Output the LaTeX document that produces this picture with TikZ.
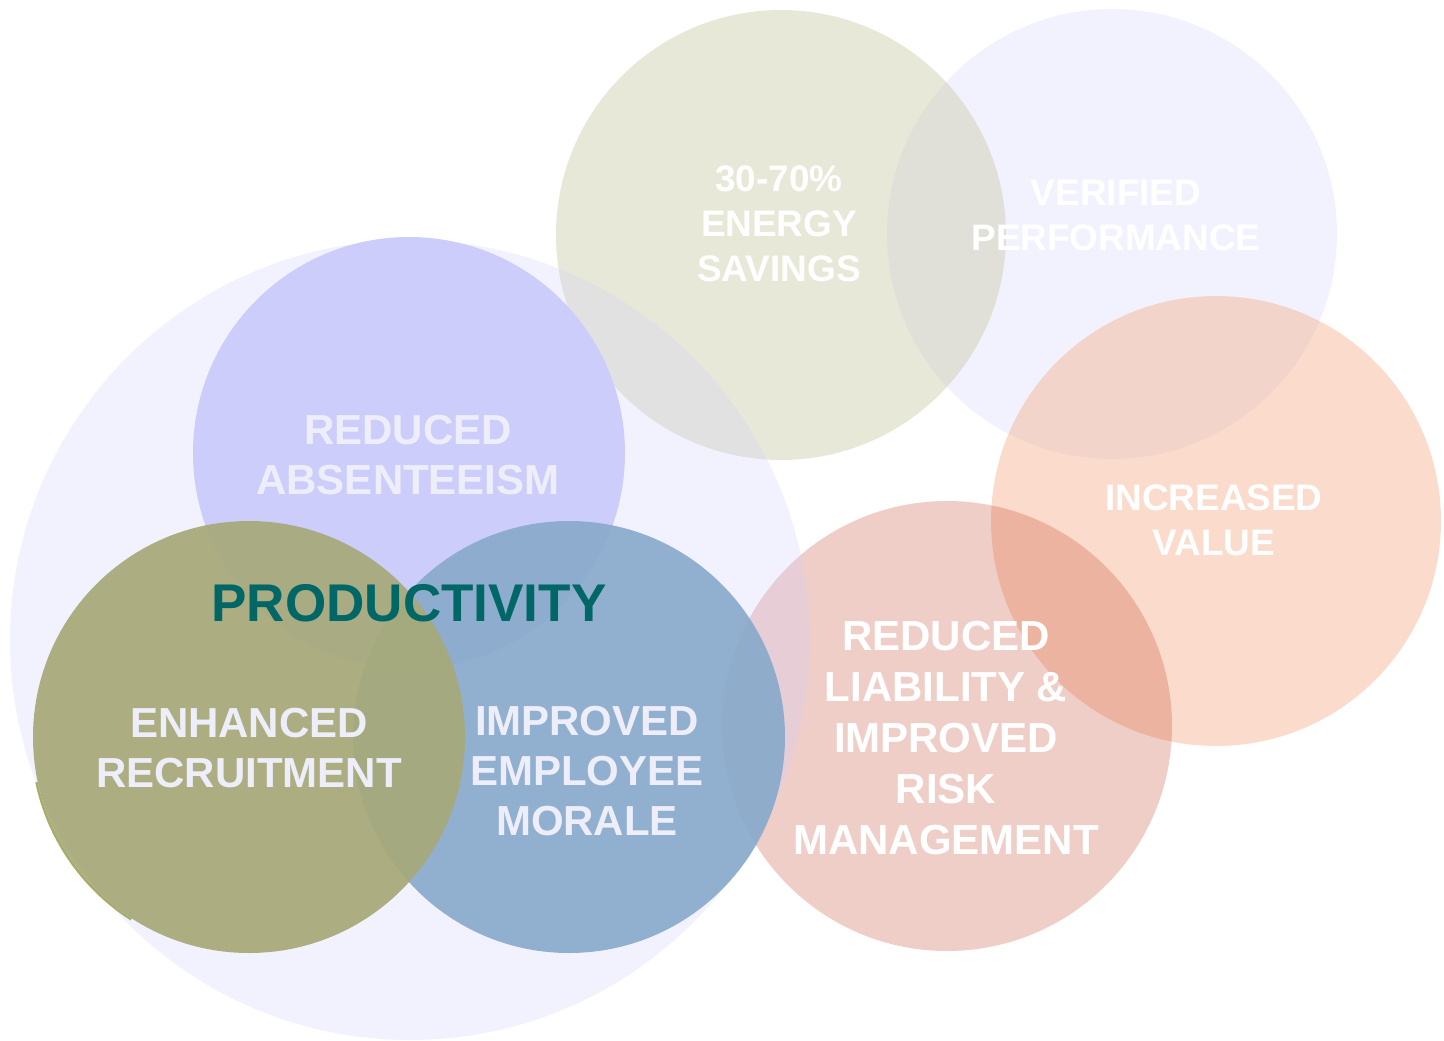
\documentclass[tikz,border=0pt]{standalone}
\usepackage{fontspec}
\setmainfont{Liberation Sans}
\definecolor{lavender}{RGB}{204,204,255}
\definecolor{absentblue}{RGB}{205,205,252}
\definecolor{olivegreen}{RGB}{167,169,120}
\definecolor{oliveedge}{RGB}{168,172,106}
\definecolor{moraleblue}{RGB}{135,169,202}
\definecolor{energyolive}{RGB}{191,191,147}
\definecolor{valueorange}{RGB}{244,167,127}
\definecolor{riskred}{RGB}{193,51,26}
\definecolor{labelwhite}{RGB}{238,238,250}
\definecolor{prodteal}{RGB}{0,102,102}
\begin{document}
\begin{tikzpicture}[x=0.02cm,y=-0.02cm,
  biglabel/.style={text=labelwhite,font=\bfseries\fontsize{23.9}{28.5}\selectfont,align=center},
  risklabel/.style={text=white,font=\bfseries\fontsize{23.9}{29}\selectfont,align=center},
  smalllabel/.style={text=white,font=\bfseries\fontsize{21}{25.6}\selectfont,align=center}]
\pgfmathsetmacro{\kr}{216}
\pgfmathsetmacro{\kR}{225}
\pgfmathsetmacro{\kbig}{400}
\useasboundingbox (0,0) rectangle (1444,1041);
% outer ring of benefits
\fill[lavender,fill opacity=0.25](1112,234) circle[radius=\kR];
\fill[energyolive,fill opacity=0.36](781,235) circle[radius=\kR];
\fill[valueorange,fill opacity=0.4](1216,521) circle[radius=\kR];
\fill[riskred,fill opacity=0.24](947,726) circle[radius=\kR];
% productivity group
\fill[lavender,fill opacity=0.25](410,640) circle[radius=\kbig];
\fill[absentblue](409,453) circle[radius=\kr];
\fill[moraleblue,fill opacity=0.9](569,737) circle[radius=\kr];
\begin{scope}
\clip(249,737)--(0,790)--(0,800)--(90,960)--(105,960)--cycle;
\fill[oliveedge,even odd rule](246.8,738.3) circle[radius=\kr] (249,737) circle[radius=\kr];
\end{scope}
\fill[olivegreen,fill opacity=0.92](249,737) circle[radius=\kr];
% labels
\node[biglabel](absent) at (408,455){REDUCED\\ABSENTEEISM};
\node[text=prodteal,font=\bfseries\fontsize{30.2}{36}\selectfont](prod) at (409,603){PRODUCTIVITY};
\node[biglabel](recruit) at (249,748){ENHANCED\\RECRUITMENT};
\node[biglabel](morale) at (587,771){IMPROVED\\EMPLOYEE\\MORALE};
\node[smalllabel](energy) at (779,224){30-70\%\\ENERGY\\SAVINGS};
\node[smalllabel](verified) at (1116,215){VERIFIED\\PERFORMANCE};
\node[smalllabel](value) at (1214,520){INCREASED\\VALUE};
\node[risklabel](risk) at (946,738){REDUCED\\LIABILITY \&\\IMPROVED\\RISK\\MANAGEMENT};
\end{tikzpicture}
\end{document}
